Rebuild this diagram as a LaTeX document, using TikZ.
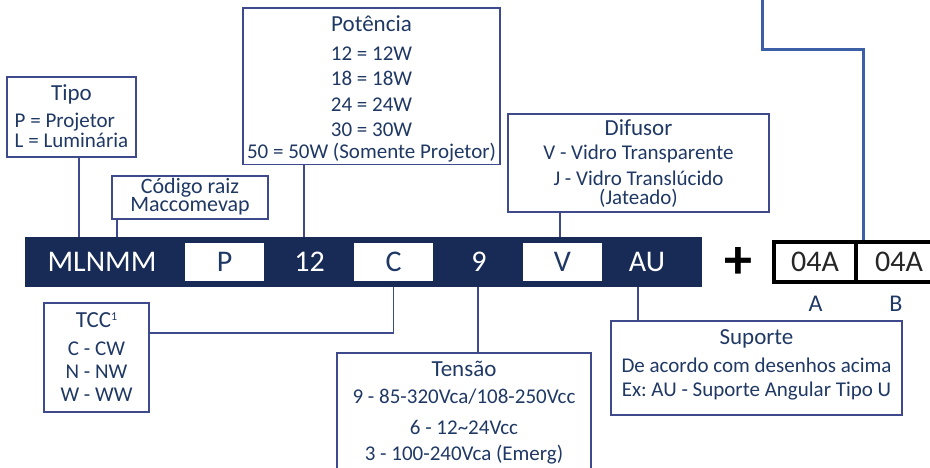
\documentclass[tikz,border=0pt]{standalone}
\usepackage{fontspec}
\setmainfont{Carlito}
\usetikzlibrary{positioning}
\definecolor{barnavy}{HTML}{172B56}
\definecolor{textnavy}{HTML}{1F3864}
\definecolor{boxline}{HTML}{3F4A8C}
\definecolor{feedblue}{HTML}{3C5FA5}
\definecolor{codegray}{HTML}{262626}
\lineskiplimit=-1000pt
\frenchspacing
\newcommand{\heading}[1]{{\fontsize{23}{0}\selectfont #1}}
\newcommand{\topgap}[1]{\rule{0pt}{#1pt}}
\newcommand{\botgap}[1]{\rule[-#1pt]{0pt}{#1pt}}
\newcommand{\supone}{\raisebox{7pt}{\fontsize{12}{0}\selectfont 1}}
\newlength{\tipow}
\begin{document}
\settowidth{\tipow}{\fontsize{21}{0}\selectfont L = Luminária}%
\begin{tikzpicture}[x=1pt, y=-1pt,
    infobox/.style={draw=boxline, line width=1.6pt, text=textnavy, align=center, inner sep=0pt, font=\fontsize{21}{0}\selectfont},
    barcode/.style={text=white, inner sep=0pt, font=\fontsize{30}{30}\selectfont},
    slot/.style={fill=white, minimum width=79pt, minimum height=38pt, inner sep=0pt, text=textnavy, font=\fontsize{30}{30}\selectfont},
    cell/.style={draw=black, line width=4pt, minimum height=40pt, inner sep=0pt, text=codegray, font=\fontsize{30}{30}\selectfont},
    sidelabel/.style={text=textnavy, inner sep=0pt, font=\fontsize{24}{24}\selectfont},
    link/.style={draw=boxline, line width=1.4pt},
    feed/.style={draw=feedblue, line width=3pt}]
  \useasboundingbox (0,0) rectangle (930,467);
  \clip (0,0) rectangle (930,467);

  % Code bar
  \node[fill=barnavy, minimum width=677pt, minimum height=50pt, inner sep=0pt] (bar) at (363.5,262) {};
  \node[barcode] (root) at (102,262) {MLNMM};
  \node[slot] (pslot) at (224.5,262) {P};
  \node[barcode] (watt) at (309.7,262) {12};
  \node[slot] (cslot) at (393.5,262) {C};
  \node[barcode] (volt) at (479,262) {9};
  \node[slot] (vslot) at (562.5,262) {V};
  \node[barcode] (mount) at (647,262) {AU};

  % Accessory code
  \node[font=\fontsize{56}{56}\selectfont\bfseries, inner sep=0pt] (plus) at (738,263) {+};
  \node[cell, minimum width=82pt] (cellA) at (815,262) {04A};
  \node[cell, minimum width=86pt] (cellB) at (899,262) {04A};
  \node[sidelabel] (labelA) at (815.5,304) {A};
  \node[sidelabel] (labelB) at (896,304) {B};

  % Boxes above the bar
  \node[infobox, minimum width=129pt, minimum height=80pt] (tipo) at (71.5,117)
    {\topgap{19.7}\heading{Tipo}\\[26.3pt]\makebox[\tipow][l]{P = Projetor}\\[20pt]\makebox[\tipow][l]{L = Luminária}\botgap{6}};
  \node[infobox, font=\fontsize{22}{0}\selectfont, minimum width=156pt, minimum height=43pt] (codigo) at (190,197.5)
    {\topgap{17}Código raiz\\[18.6pt]Maccomevap\botgap{7}};
  \node[infobox, minimum width=257pt, minimum height=156pt] (potencia) at (371.5,86)
    {\topgap{24}\heading{Potência}\\[28.3pt]12 = 12W\\[25.7pt]18 = 18W\\[25.3pt]24 = 24W\\[25.7pt]30 = 30W\\[21.6pt]50 = 50W (Somente Projetor)\botgap{6}};
  \node[infobox, minimum width=261pt, minimum height=98pt] (difusor) at (638.5,163)
    {\topgap{20}\heading{Difusor}\\[23.3pt]V - Vidro Transparente\\[26.3pt]J - Vidro Translúcido\\[18.8pt](Jateado)\botgap{6}};

  % Boxes below the bar
  \node[infobox, minimum width=105pt, minimum height=109pt] (tcc) at (96.5,357.5)
    {\topgap{19.9}\heading{TCC\supone}\\[27.7pt]C - CW\\[23.3pt]N - NW\\[23.3pt]W - WW\botgap{6}};
  \node[infobox, minimum width=254pt, minimum height=127pt] (tensao) at (464,416.5)
    {\topgap{18}\heading{Tensão}\\[27.3pt]9 - 85-320Vca/108-250Vcc\\[30.7pt]6 - 12\textasciitilde24Vcc\\[26pt]3 - 100-240Vca (Emerg)\botgap{15}};
  \node[infobox, minimum width=291pt, minimum height=94pt] (suporte) at (756.5,368)
    {\topgap{17}\heading{Suporte}\\[28.7pt]De acordo com desenhos acima\\[24pt]Ex: AU - Suporte Angular Tipo U\botgap{12.3}};

  % Connectors
  \draw[link] (79,0 |- tipo.south) -- (79,0 |- bar.north);
  \draw[link] (117,0 |- codigo.south) -- (117,0 |- bar.north);
  \draw[link] (304,0 |- potencia.south) -- (304,0 |- bar.north);
  \draw[link] (560,0 |- difusor.south) -- (560,0 |- bar.north);
  \draw[link] (tcc.east |- 0,333) -| (cslot |- bar.south);
  \draw[link] (478,0 |- bar.south) -- (478,0 |- tensao.north);
  \draw[link] (638,0 |- bar.south) -- (638,0 |- suporte.north);
  \coordinate (feedtop) at (762,0);
  \draw[feed] (feedtop) |- (863,49) -- (863,0 |- cellA.north);
\end{tikzpicture}
\end{document}
